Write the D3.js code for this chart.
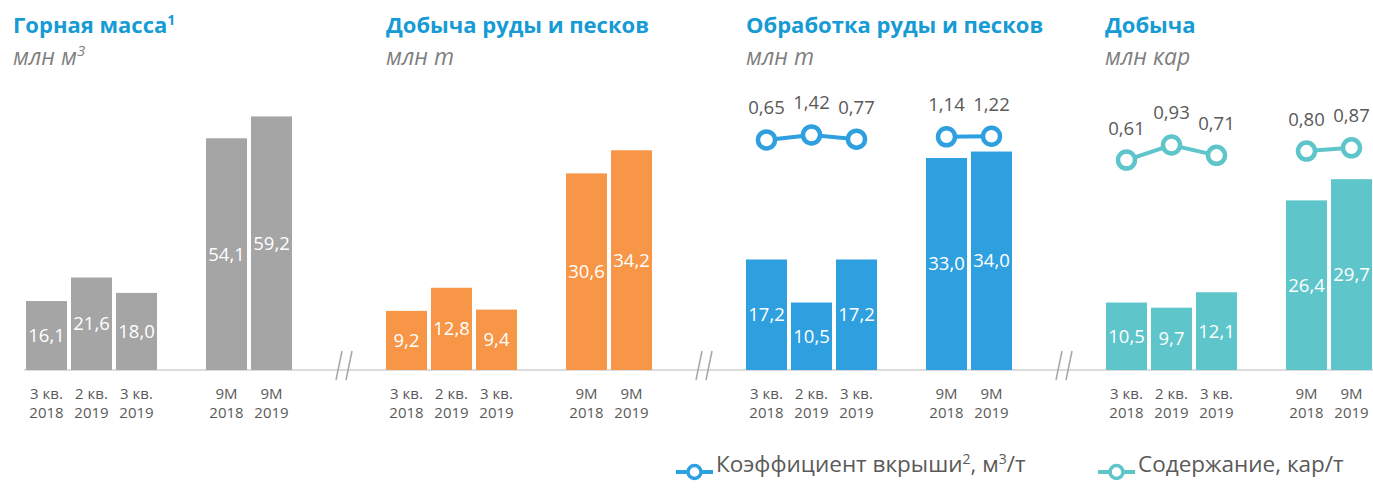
<!DOCTYPE html>
<html>
<head>
<meta charset="utf-8">
<script src="https://cdn.jsdelivr.net/npm/d3@7"></script>
<style>
  body { margin: 0; background: #fff; }
  text { font-family: "Open Sans", "Noto Sans", sans-serif; }
</style>
</head>
<body>
<div id="chart"></div>
<script>
// categories (two-line labels)
var catTop = ["3 кв.", "2 кв.", "3 кв.", "9M", "9M"];
var catBottom = ["2018", "2019", "2019", "2018", "2019"];
var catKeys = ["q3_18", "q2_19", "q3_19", "m9_18", "m9_19"];

// bar series
var rockMass = [16.1, 21.6, 18.0, 54.1, 59.2];
var oreMined = [9.2, 12.8, 9.4, 30.6, 34.2];
var oreProcessed = [17.2, 10.5, 17.2, 33.0, 34.0];
var diamonds = [10.5, 9.7, 12.1, 26.4, 29.7];

// line series
var stripRatio = [0.65, 1.42, 0.77, 1.14, 1.22];
var grade = [0.61, 0.93, 0.71, 0.80, 0.87];

var titles = ["Горная масса", "Добыча руды и песков", "Обработка руды и песков", "Добыча"];
var titleSup = ["1", "", "", ""];
var units = ["млн м", "млн т", "млн т", "млн кар"];
var unitSup = ["3", "", "", ""];

var width = 1373, height = 489;
var baseY = 370, barTop = 113;
var panelX = [26, 386, 746, 1106];
var titleX = [13, 386, 746, 1105];

var cGray = "#a5a5a5", cOrange = "#f79646", cBlue = "#2fa0df", cTeal = "#5ec5cb";
var cTitle = "#169bd5", cText = "#595959";

var panels = [
  {values: rockMass, color: cGray, max: 60},
  {values: oreMined, color: cOrange, max: 40},
  {values: oreProcessed, color: cBlue, max: 40, line: stripRatio, lineRange: [144.2, 131.2], lineMax: 2},
  {values: diamonds, color: cTeal, max: 40, line: grade, lineRange: [188.7, 141.7], lineMax: 1}
];

var fmt = function(v, d) { return v.toFixed(d).replace(".", ","); };

var svg = d3.select("#chart").append("svg")
    .attr("width", width)
    .attr("height", height);

// x band: three quarters, a spacer, two 9M bars
var x = d3.scaleBand()
    .domain(["q3_18", "q2_19", "q3_19", "gap", "m9_18", "m9_19"])
    .range([0, 266])
    .paddingInner(4 / 45)
    .paddingOuter(0);

// axis baseline
svg.append("line")
    .attr("x1", 24).attr("x2", width)
    .attr("y1", baseY).attr("y2", baseY)
    .attr("stroke", "#d0d0d0")
    .attr("stroke-width", 1.5);

panels.forEach(function(p, i) {
  var g = svg.append("g").attr("transform", "translate(" + panelX[i] + ",0)");
  var y = d3.scaleLinear().domain([0, p.max]).range([baseY, barTop]);

  // title
  var t = svg.append("text")
      .attr("x", titleX[i]).attr("y", 33)
      .attr("fill", cTitle)
      .attr("font-weight", "bold")
      .attr("font-size", 22)
      .text(titles[i]);
  if (titleSup[i]) {
    t.append("tspan").attr("dy", -8).attr("font-size", 14).text(titleSup[i]);
  }
  var u = svg.append("text")
      .attr("x", titleX[i]).attr("y", 65)
      .attr("fill", "#7f7f7f")
      .attr("font-style", "italic")
      .attr("font-size", 23)
      .text(units[i]);
  if (unitSup[i]) {
    u.append("tspan").attr("dy", -9).attr("font-size", 15).text(unitSup[i]);
  }

  // bars
  g.selectAll("rect")
    .data(p.values)
    .enter()
    .append("rect")
      .attr("x", function(d, j) { return x(catKeys[j]); })
      .attr("y", function(d) { return y(d); })
      .attr("width", x.bandwidth())
      .attr("height", function(d) { return baseY - y(d); })
      .attr("fill", p.color);

  g.selectAll(".barlabel")
    .data(p.values)
    .enter()
    .append("text")
      .attr("class", "barlabel")
      .attr("x", function(d, j) { return x(catKeys[j]) + x.bandwidth() / 2; })
      .attr("y", function(d) { return (y(d) + baseY) / 2; })
      .attr("dy", "0.35em")
      .attr("text-anchor", "middle")
      .attr("fill", "#fff")
      .attr("font-size", 18.5)
      .text(function(d) { return fmt(d, 1); });

  // category labels, two lines
  g.selectAll(".cat1")
    .data(catKeys)
    .enter()
    .append("text")
      .attr("class", "cat1")
      .attr("x", function(d) { return x(d) + x.bandwidth() / 2; })
      .attr("y", 399)
      .attr("text-anchor", "middle")
      .attr("fill", cText)
      .attr("font-size", 15)
      .text(function(d, j) { return catTop[j]; });
  g.selectAll(".cat2")
    .data(catKeys)
    .enter()
    .append("text")
      .attr("class", "cat2")
      .attr("x", function(d) { return x(d) + x.bandwidth() / 2; })
      .attr("y", 418)
      .attr("text-anchor", "middle")
      .attr("fill", cText)
      .attr("font-size", 15)
      .text(function(d, j) { return catBottom[j]; });

  // axis break
  var bx = panelX[i] + 313;
  if (i < 3) {
    [0, 10].forEach(function(off) {
      svg.append("line")
        .attr("x1", bx + off + 3).attr("y1", 351)
        .attr("x2", bx + off - 3).attr("y2", 380)
        .attr("stroke", "#a6a6a6")
        .attr("stroke-width", 1.5);
    });
  }

  // line series
  if (p.line) {
    var yl = d3.scaleLinear().domain([0, p.lineMax]).range(p.lineRange);
    var pts = p.line.map(function(v, j) {
      return {v: v, x: x(catKeys[j]) + x.bandwidth() / 2, y: yl(v)};
    });
    var lineGen = d3.line().x(function(d) { return d.x; }).y(function(d) { return d.y; });
    [pts.slice(0, 3), pts.slice(3)].forEach(function(seg) {
      g.append("path")
        .attr("d", lineGen(seg))
        .attr("fill", "none")
        .attr("stroke", p.color)
        .attr("stroke-width", 4);
    });
    g.selectAll(".pt")
      .data(pts)
      .enter()
      .append("circle")
        .attr("class", "pt")
        .attr("cx", function(d) { return d.x; })
        .attr("cy", function(d) { return d.y; })
        .attr("r", 8.5)
        .attr("fill", "#fff")
        .attr("stroke", p.color)
        .attr("stroke-width", 4.5);
    g.selectAll(".ptlabel")
      .data(pts)
      .enter()
      .append("text")
        .attr("class", "ptlabel")
        .attr("x", function(d) { return d.x; })
        .attr("y", function(d) { return d.y - 32; })
        .attr("dy", "0.35em")
        .attr("text-anchor", "middle")
        .attr("fill", cText)
        .attr("font-size", 18.5)
        .text(function(d) { return fmt(d.v, 2); });
  }
});

// legend
var legend = [
  {color: cBlue, x: 676, label: ["Коэффициент вкрыши", "2", ", м", "3", "/т"]},
  {color: cTeal, x: 1098, label: ["Содержание, кар/т"]}
];
legend.forEach(function(l) {
  var lg = svg.append("g").attr("transform", "translate(" + l.x + ",472)");
  lg.append("line").attr("x1", 0).attr("x2", 37)
    .attr("stroke", l.color).attr("stroke-width", 4);
  lg.append("circle").attr("cx", 18.5).attr("r", 6.5)
    .attr("fill", "#fff").attr("stroke", l.color).attr("stroke-width", 3.5);
  var t = lg.append("text").attr("x", 40).attr("dy", "0.35em")
    .attr("fill", cText).attr("font-size", 22.5);
  l.label.forEach(function(s, k) {
    var sup = k % 2 === 1;
    t.append("tspan")
      .attr("dy", sup ? -8 : (k > 0 ? 8 : 0))
      .attr("font-size", sup ? 14 : 22.5)
      .text(s);
  });
});
</script>
</body>
</html>
